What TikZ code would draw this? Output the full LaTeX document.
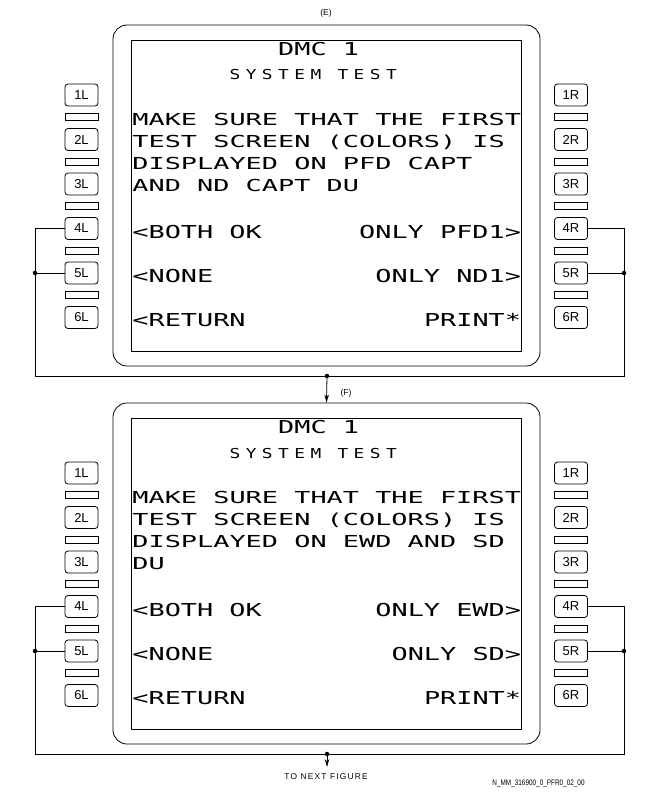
\documentclass[tikz,border=0pt]{standalone}
\usepackage{fontspec}
\usepackage{graphicx}
\usetikzlibrary{arrows.meta}
\newfontfamily\scrbigfam[FakeStretch=1.51]{DejaVu Sans Mono}
\newfontfamily\scrmedfam[FakeStretch=1.63]{DejaVu Sans Mono}
\newfontfamily\scrsmlfam[FakeStretch=1.3,LetterSpace=40]{DejaVu Sans Mono}
\newfontfamily\keyfam{Liberation Sans}
\newfontfamily\lblfam{Liberation Sans}
\newfontfamily\nextfam[LetterSpace=14]{Liberation Sans}
\newfontfamily\idfam[FakeStretch=0.8]{Liberation Sans}
\newcommand\scrbig{\scrbigfam\fontsize{17.8pt}{20pt}\selectfont}
\newcommand\scrmed{\scrmedfam\fontsize{16.5pt}{19pt}\selectfont}
\newcommand\scrsml{\scrsmlfam\fontsize{13.7pt}{16pt}\selectfont}
\newcommand\keyfnt{\keyfam\fontsize{13pt}{15pt}\selectfont}
\newcommand\lblfnt{\lblfam\fontsize{8.5pt}{10pt}\selectfont}
\newcommand\nextfnt{\nextfam\fontsize{8.4pt}{10pt}\selectfont}
\newcommand\idfnt{\idfam\fontsize{8pt}{10pt}\selectfont}
\begin{document}
\begin{tikzpicture}[x=1pt,y=-1pt,line width=0.8pt,
  key/.style={draw,rounded corners=3pt,minimum width=33pt,minimum height=22pt,inner sep=0pt,font=\keyfnt},
  sepbar/.style={draw,minimum width=33pt,minimum height=7pt,inner sep=0pt},
  frame/.style={draw,rounded corners=14pt,minimum width=427pt,minimum height=341pt,inner sep=0pt},
  screen/.style={draw,minimum width=390pt,minimum height=311pt,inner sep=0pt},
  scrtxt/.style={anchor=base west,inner sep=0pt},
  dot/.style={circle,fill,inner sep=0pt,minimum size=4.5pt},
  arr/.style={-{Stealth[length=8pt,width=4.5pt]}},
  lbl/.style={inner sep=0pt,font=\lblfnt}]
\fill[white] (0,0) rectangle (648,792);
\useasboundingbox (0,0) rectangle (648,792);

\foreach \p/\yo in {A/0,B/378}{
  \begin{scope}[shift={(0,\yo)}]
    \node[frame] (frame\p) at (326.5,195.5) {};
    \node[screen] (scr\p) at (326.5,195.5) {};
    \foreach \i [evaluate=\i as \ky using 95+44.5*(\i-1)] in {1,...,6}{
      \node[key] (k\i L\p) at (81.5,\ky) {\i L};
      \node[key] (k\i R\p) at (571,\ky) {\i R};
    }
    \foreach \i [evaluate=\i as \sy using 117.25+44.5*(\i-1)] in {1,...,5}{
      \node[sepbar] (sl\i\p) at (81.5,\sy) {};
      \node[sepbar] (sr\i\p) at (571,\sy) {};
    }
    \coordinate (lt\p) at (35,228.5);
    \coordinate (lb\p) at (35,376);
    \coordinate (rt\p) at (624,228.5);
    \coordinate (rb\p) at (624,376);
    \node[dot] (lj\p) at (35,273) {};
    \node[dot] (rj\p) at (624,273) {};
    \node[dot] (mid\p) at (327,376) {};
    \draw (k4L\p.west) -- (lt\p) -- (lb\p) -- (rb\p) -- (rt\p) -- (k4R\p.east);
    \draw (k5L\p.west) -- (lj\p.center);
    \draw (k5R\p.east) -- (rj\p.center);
  \end{scope}
}

% panel A texts
\node[scrtxt,font=\scrbig] (a1) at (277.8,55.5) {DMC 1};
\node[scrtxt,font=\scrsml] (a2) at (229.2,80) {SYSTEM TEST};
\node[scrtxt,font=\scrmed] (a3) at (132,125) {MAKE SURE THAT THE FIRST};
\node[scrtxt,font=\scrmed] (a4) at (132,147) {TEST SCREEN (COLORS) IS};
\node[scrtxt,font=\scrmed] (a5) at (132,169) {DISPLAYED ON PFD CAPT};
\node[scrtxt,font=\scrmed] (a6) at (132,191) {AND ND CAPT DU};
\node[scrtxt,font=\scrbig] (a7) at (132,238) {<BOTH OK};
\node[scrtxt,font=\scrbig] (a8) at (358.8,238) {ONLY PFD1>};
\node[scrtxt,font=\scrbig] (a9) at (132,282) {<NONE};
\node[scrtxt,font=\scrbig] (a10) at (375,282) {ONLY ND1>};
\node[scrtxt,font=\scrbig] (a11) at (132,326) {<RETURN};
\node[scrtxt,font=\scrbig] (a12) at (423.6,326) {PRINT*};

% panel B texts
\node[scrtxt,font=\scrbig] (b1) at (277.8,433.5) {DMC 1};
\node[scrtxt,font=\scrsml] (b2) at (229.2,458) {SYSTEM TEST};
\node[scrtxt,font=\scrmed] (b3) at (132,503) {MAKE SURE THAT THE FIRST};
\node[scrtxt,font=\scrmed] (b4) at (132,525) {TEST SCREEN (COLORS) IS};
\node[scrtxt,font=\scrmed] (b5) at (132,547) {DISPLAYED ON EWD AND SD};
\node[scrtxt,font=\scrmed] (b6) at (132,569) {DU};
\node[scrtxt,font=\scrbig] (b7) at (132,616) {<BOTH OK};
\node[scrtxt,font=\scrbig] (b8) at (375,616) {ONLY EWD>};
\node[scrtxt,font=\scrbig] (b9) at (132,660) {<NONE};
\node[scrtxt,font=\scrbig] (b10) at (391.2,660) {ONLY SD>};
\node[scrtxt,font=\scrbig] (b11) at (132,704) {<RETURN};
\node[scrtxt,font=\scrbig] (b12) at (423.6,704) {PRINT*};

% labels and arrows
\node[lbl] (lblE) at (326,13) {(E)};
\node[lbl] (lblF) at (346,393) {(F)};
\draw[arr] (midA.center) -- (frameB.north);
\coordinate (nexttip) at (327,767);
\draw[arr] (midB.center) -- (nexttip);
\node[inner sep=0pt,font=\nextfnt] (nextlbl) at (326,776.5) {TO NEXT FIGURE};
\node[inner sep=0pt,font=\idfnt,anchor=east] (figid) at (585,783.5) {N\_MM\_316900\_0\_PFR0\_02\_00};
\end{tikzpicture}
\end{document}
